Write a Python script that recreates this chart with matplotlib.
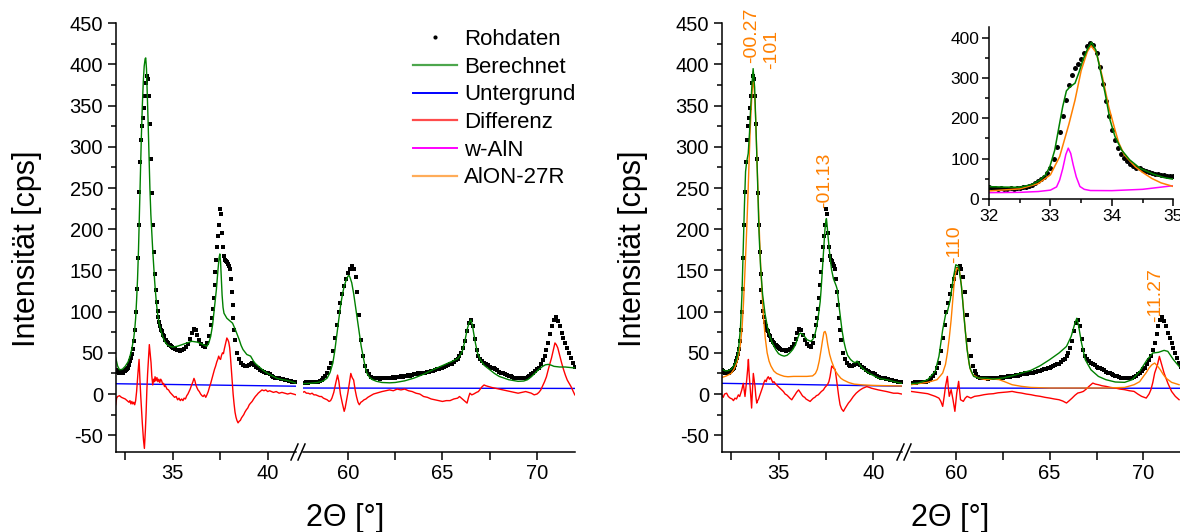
import numpy as np
import matplotlib
matplotlib.use('Agg')
import matplotlib.pyplot as plt
from matplotlib.lines import Line2D
from matplotlib.ticker import MultipleLocator

plt.rcParams['font.family'] = ['Liberation Sans', 'DejaVu Sans']
plt.rcParams['axes.unicode_minus'] = False

# ---------------- Rohdaten (gleich fuer beide Panels) ----------------
raw_y_a = [29, 28, 27, 26, 27, 25, 26, 27, 26, 28, 28, 29, 30, 32, 35, 40, 44, 49, 55, 64,
           78, 100, 128, 165, 205, 245, 282, 308, 325, 335, 347, 362, 378, 386, 382, 362, 328, 285, 244, 205,
           172, 146, 126, 112, 101, 93, 87, 82, 78, 76, 72, 70, 66, 65, 63, 62, 60, 60, 58, 57, 56]   # 32.00-35.00, 0.05
raw_y_b = [55, 54, 53, 52, 53, 55, 57, 61, 67, 74, 79, 78, 72, 66, 61, 58, 57, 62, 70]           # 35.1-36.9, 0.1
raw_y_c = [84, 92, 103, 116, 132, 148, 163, 179, 192, 205, 224, 218, 196, 178, 168, 163, 162, 160,
           158, 156, 152, 140, 124, 108, 92, 78, 66]                                               # 37.00-38.30, 0.05
raw_y_d = [50, 42, 38, 35, 34, 34, 35, 37, 38, 35, 33, 31, 29, 28, 27, 26, 25, 24, 22, 21,
           20, 19, 19, 18, 18, 17, 17, 16, 16, 15, 15, 14]                                         # 38.4-41.5, 0.1
raw_y_e = [13, 13, 14, 13, 14, 14, 14, 15, 15, 16, 17, 19, 22, 26, 31, 38, 52, 68, 84, 100,
           111, 121, 131, 140, 147, 152, 155, 152, 142, 124, 96, 66, 46, 34, 28, 24, 21, 20, 19, 19,
           19, 18, 19, 19, 20, 19, 20, 20, 21, 20, 21, 21, 22, 21, 22, 22, 23, 22, 23, 24,
           24, 25, 24, 25, 26, 26, 27, 27, 28, 28, 29, 30, 30, 31, 32, 33, 34, 35, 36, 37,
           39, 41, 43, 46, 50, 56, 64, 76, 86, 90, 82, 67, 54, 46, 42, 40, 38, 37, 35, 33,
           32, 31, 30, 29, 27, 26, 25, 24, 23, 22, 22, 21, 20, 20, 19, 19, 19, 20, 20, 21,
           22, 24, 26, 28, 30, 32, 36, 41, 46, 53, 62, 73, 82, 90, 94, 89, 82, 74, 68, 62,
           56, 50, 44, 38, 33]                                                                     # 57.6-72.0, 0.1
raw_x = np.concatenate([np.linspace(32, 35, 61), np.linspace(35.1, 36.9, 19), np.linspace(37, 38.3, 27),
                        np.linspace(38.4, 41.5, 32), np.linspace(57.6, 72.0, 145)])
raw_y = np.array(raw_y_a + raw_y_b + raw_y_c + raw_y_d + raw_y_e)

# ---------------- linkes Panel ----------------
calc_l_x = [32.0, 32.1, 32.2, 32.35, 32.5, 32.65, 32.75, 32.85, 32.95, 33.0, 33.05, 33.1, 33.15, 33.2, 33.25,
            33.3, 33.35, 33.4, 33.45, 33.5, 33.55, 33.58, 33.62, 33.65, 33.7, 33.75, 33.8, 33.85, 33.9, 33.95,
            34.0, 34.05, 34.1, 34.15, 34.2, 34.3, 34.4, 34.5, 34.6, 34.7, 34.85, 35.0, 35.25, 35.5, 35.75,
            36.0, 36.3, 36.6, 36.8, 36.9, 37.0, 37.1, 37.2, 37.3, 37.38, 37.44, 37.48, 37.52, 37.56, 37.6,
            37.65, 37.7, 37.85, 38.0, 38.15, 38.3, 38.4, 38.5, 38.6, 38.7, 38.8, 38.9, 39.0, 39.1, 39.15,
            39.25, 39.35, 39.5, 39.75, 40.0, 40.25, 40.5, 40.75, 41.0, 41.25, 41.5,
            57.6, 58.0, 58.4, 58.7, 58.9, 59.05, 59.2, 59.3, 59.4, 59.5, 59.6, 59.7, 59.8, 59.9, 60.0,
            60.05, 60.1, 60.2, 60.3, 60.4, 60.5, 60.6, 60.7, 60.8, 60.9, 61.0, 61.15, 61.3, 61.5, 61.8,
            62.2, 62.5, 63.0, 63.5, 64.0, 64.5, 65.0, 65.5, 65.8, 65.9, 66.05, 66.2, 66.3, 66.4, 66.5,
            66.58, 66.65, 66.75, 66.85, 67.0, 67.2, 67.5, 67.75, 68.0, 68.5, 69.0, 69.3, 69.5, 69.7, 69.9,
            70.1, 70.3, 70.45, 70.6, 70.75, 70.9, 71.2, 71.5, 72.0]
calc_l_y = [44, 34, 29.5, 30, 33.6, 39, 45.7, 55, 68, 78, 92, 114, 140, 175, 220,
            268, 312, 349, 378, 398, 407, 408, 395, 373, 335, 292, 250, 218, 195, 174,
            155, 137, 122, 109, 98, 84, 75, 68, 63, 60, 58, 57, 58, 60, 62,
            64, 63, 60, 58, 62, 70, 84, 105, 127, 150, 165, 170, 160, 140, 120,
            105, 98, 92, 89, 86, 78, 72, 66, 59, 54, 51, 48, 47, 46, 44,
            40, 37, 34, 29, 25, 22, 19, 17.5, 16.6, 15, 13,
            12.5, 13, 14, 16, 19.4, 26, 37.6, 52, 70, 88, 106, 120, 131, 138, 143,
            144, 142, 135, 122, 106, 90, 74, 58, 45.7, 34, 25.5, 20, 17.4, 15.5, 14,
            13.6, 14, 16, 19.4, 24, 29.5, 34.5, 39.6, 43, 45.7, 52, 66, 78, 86, 90,
            84, 74, 61, 50, 41.7, 35, 29.5, 25, 21.4, 17.4, 15.4, 15.8, 17.4, 21, 25.5,
            30, 33.6, 35.5, 36, 35, 33.6, 32.8, 32.8, 31.6]

diff_l_x = [32.0, 32.05, 32.1, 32.2, 32.3, 32.4, 32.5, 32.6, 32.7, 32.75, 32.8, 32.85, 32.9, 32.95, 33.0,
            33.05, 33.1, 33.17, 33.23, 33.28, 33.32, 33.4, 33.46, 33.51, 33.56, 33.6, 33.64, 33.68, 33.73, 33.77,
            33.81, 33.86, 33.9, 33.95, 34.0, 34.04, 34.07, 34.12, 34.17, 34.22, 34.27, 34.32, 34.37, 34.42, 34.47,
            34.52, 34.57, 34.62, 34.7, 34.78, 34.86, 34.94, 35.02, 35.1, 35.18, 35.26, 35.33, 35.4, 35.47, 35.54,
            35.6, 35.67, 35.74, 35.8, 35.86, 35.92, 35.98, 36.05, 36.12, 36.17, 36.22, 36.27, 36.33, 36.4, 36.47,
            36.54, 36.6, 36.67, 36.74, 36.8, 36.87, 36.93, 37.0, 37.07, 37.13, 37.2, 37.26, 37.32, 37.37, 37.42,
            37.47, 37.52, 37.57, 37.62, 37.67, 37.72, 37.77, 37.81, 37.85, 37.9, 37.95, 38.0, 38.04, 38.08, 38.13,
            38.18, 38.23, 38.28, 38.33, 38.38, 38.44, 38.5, 38.56, 38.62, 38.68, 38.74, 38.8, 38.88, 38.95, 39.03,
            39.1, 39.18, 39.26, 39.35, 39.43, 39.5, 39.6, 39.7, 39.8, 39.9, 40.0, 40.1, 40.2, 40.3, 40.45,
            40.6, 40.75, 40.9, 41.05, 41.2, 41.35, 41.5,
            57.6, 57.7, 57.8, 57.9, 58.0, 58.1, 58.2, 58.3, 58.4, 58.5, 58.6, 58.7, 58.8, 58.9, 59.0,
            59.08, 59.15, 59.25, 59.35, 59.45, 59.52, 59.6, 59.7, 59.8, 59.85, 59.92, 60.0, 60.08, 60.15, 60.22,
            60.3, 60.38, 60.45, 60.53, 60.6, 60.68, 60.75, 60.85, 60.95, 61.05, 61.2, 61.35, 61.5, 61.65, 61.8,
            62.0, 62.2, 62.4, 62.6, 62.8, 63.0, 63.2, 63.4, 63.6, 63.8, 64.0, 64.2, 64.4, 64.6, 64.8,
            65.0, 65.2, 65.4, 65.6, 65.8, 65.9, 66.0, 66.1, 66.2, 66.3, 66.38, 66.45, 66.55, 66.65, 66.8,
            66.9, 67.0, 67.1, 67.2, 67.3, 67.45, 67.6, 67.8, 68.0, 68.2, 68.4, 68.6, 68.8, 69.0, 69.2,
            69.4, 69.55, 69.7, 69.85, 70.0, 70.1, 70.2, 70.3, 70.4, 70.5, 70.6, 70.7, 70.77, 70.85, 70.95,
            71.02, 71.1, 71.2, 71.3, 71.4, 71.5, 71.6, 71.7, 71.8, 71.9, 72.0]
diff_l_y = [-13, -5, -3, -2, -4, -5, -6, -8, -10, -8, -12, -9, -12, -10, -13,
            -8, 3, 25, 42, 15, -3, -35, -55, -66, -45, -23, 5, 25, 45, 60,
            50, 38, 22, 11, 18, 15, 21, 16, 20, 15, 18, 14, 18, 16, 12,
            13, 9, 10, 6, 5, 2, 0, -2, -4, -3, -7, -5, -8, -6, -8,
            -5, -6, -2, 0, 3, 6, 10, 14, 19, 16, 11, 8, 5, 3, 0,
            -2, -3, -1, -4, -1, 3, 8, 13, 19, 24, 30, 34, 39, 42, 46,
            43, 42, 47, 50, 49, 55, 60, 64, 68, 66, 63, 56, 45, 32, 15,
            0, -12, -22, -28, -32, -35, -33, -32, -29, -27, -25, -22, -19, -17, -13,
            -11, -9, -6, -3, -1, 1, 3, 5, 4, 5, 3, 4, 3, 2, 3,
            1, 2, 1, 0, 1, 0, -1,
            2, 3, 1, 1, 0, 1, -1, -1, -2, -3, -3, -5, -6, -7, -9,
            -8, -5, 2, 13, 23, 15, 0, -11, -21, -17, -8, 2, 14, 25, 20,
            17, 5, -3, -10, -13, -10, -9, -7, -6, -4, -2, 0, 1, 2, 3,
            4, 5, 4, 6, 5, 6, 4, 3, 1, 0, -3, -4, -6, -7, -8,
            -9, -8, -8, -6, -5, -3, -5, -7, -9, -11, -4, 1, -1, 0, 2,
            3, 6, 9, 11, 10, 9, 8, 7, 6, 5, 4, 3, 2, 1, 2,
            3, 2, 1, -1, 0, 2, 5, 10, 15, 21, 30, 38, 44, 52, 62,
            60, 56, 47, 38, 30, 23, 17, 13, 9, 4, -1]

bg_l_x = [32.0, 41.5, 57.6, 72.0]
bg_l_y = [12.5, 9.5, 7.3, 6.8]

# ---------------- rechtes Panel ----------------
calc_r_x = [32.0, 32.1, 32.2, 32.35, 32.5, 32.65, 32.75, 32.83, 32.9, 32.99, 33.07, 33.15, 33.2, 33.26, 33.32,
            33.4, 33.47, 33.53, 33.61, 33.66, 33.74, 33.8, 33.89, 33.97, 34.05, 34.16, 34.29, 34.46, 34.67, 34.85,
            35.0, 35.15, 35.3, 35.45, 35.6, 35.75, 35.9, 36.0, 36.1, 36.15, 36.3, 36.5, 36.7, 36.8, 36.9,
            37.0, 37.1, 37.2, 37.25, 37.3, 37.35, 37.4, 37.45, 37.5, 37.53, 37.57, 37.6, 37.7, 37.8, 37.9,
            37.95, 38.05, 38.1, 38.2, 38.3, 38.35, 38.45, 38.55, 38.65, 38.8, 38.95, 39.05, 39.15, 39.25, 39.4,
            39.6, 39.8, 40.05, 40.3, 40.55, 40.8, 41.1, 41.5,
            57.6, 58.0, 58.5, 58.9, 59.1, 59.3, 59.45, 59.55, 59.7, 59.85, 60.0, 60.15, 60.3, 60.45, 60.6,
            60.75, 60.95, 61.2, 61.6, 62.0, 62.5, 63.0, 63.5, 64.0, 64.5, 65.0, 65.5, 65.9, 66.15, 66.35,
            66.45, 66.55, 66.7, 66.9, 67.2, 67.6, 68.0, 68.5, 69.0, 69.4, 69.8, 70.2, 70.5, 70.8, 71.1,
            71.3, 71.6, 71.9]
calc_r_y = [30, 29, 28, 28.5, 30, 35, 40, 47, 58, 80, 121, 188, 229, 270, 282,
            292, 318, 348, 380, 395, 372, 330, 262, 196, 155, 121, 97, 76, 62, 54,
            49, 47, 46, 47, 50, 54, 60, 67, 73, 74, 72, 66, 64, 66, 70,
            80, 94, 112, 127, 145, 163, 182, 199, 210, 213, 204, 195, 171, 151, 140,
            137, 131, 127, 106, 88, 78, 64, 54, 47, 42, 39, 38, 40, 37, 32,
            28, 25, 22, 19, 18, 17, 15, 13,
            12.5, 13.3, 17.4, 27.5, 45.7, 78, 96, 100, 114, 139, 157, 155, 131, 90, 54,
            31.6, 21.4, 19.4, 19.4, 18.2, 19.4, 22, 25.5, 28.7, 34.4, 41.7, 49.8, 57.8, 70, 86,
            92, 82, 62, 41.7, 29.5, 21.4, 17.4, 14.6, 14.2, 17.4, 27.5, 41.7, 49.8, 50.6, 53,
            51.8, 41.7, 33.6]

alon_r_x = [32.0, 32.25, 32.5, 32.65, 32.8, 32.9, 33.0, 33.08, 33.15, 33.22, 33.3, 33.35, 33.4, 33.45, 33.5,
            33.55, 33.6, 33.65, 33.7, 33.75, 33.8, 33.85, 33.9, 33.95, 34.0, 34.05, 34.12, 34.2, 34.3, 34.4,
            34.5, 34.6, 34.75, 34.9, 35.1, 35.3, 35.5, 35.8, 36.1, 36.5, 36.8, 36.95, 37.05, 37.15, 37.25,
            37.33, 37.4, 37.46, 37.52, 37.6, 37.7, 37.8, 37.9, 38.0, 38.15, 38.3, 38.43, 38.7, 39.0, 39.5,
            40.0, 40.5, 41.0, 41.5,
            57.6, 58.5, 59.0, 59.3, 59.45, 59.55, 59.65, 59.75, 59.83, 59.9, 59.97, 60.05, 60.12, 60.2, 60.28,
            60.35, 60.43, 60.5, 60.6, 60.7, 60.8, 60.9, 61.2, 61.6, 62.0, 62.3, 62.6, 63.0, 63.5, 64.0,
            65.0, 66.0, 67.0, 68.0, 69.0, 69.5, 69.8, 70.0, 70.15, 70.3, 70.45, 70.6, 70.75, 70.9, 71.05,
            71.2, 71.5, 71.9]
alon_r_y = [20, 22, 25, 30, 38, 48, 62, 82, 110, 145, 188, 218, 250, 285, 318,
            343, 365, 379, 375, 358, 330, 295, 258, 222, 190, 160, 128, 95, 68, 50,
            40, 34, 28, 25, 23, 21.5, 21, 21.4, 21.4, 21.4, 22, 25, 30, 40, 54,
            66, 75, 76, 72, 60, 48, 40, 34, 28, 23, 19, 17, 14, 12, 11,
            10.5, 10.2, 10, 9.7,
            11.3, 14.2, 17.4, 25.5, 36, 49.8, 68, 90, 112, 131, 145, 153, 152, 149, 135,
            118, 98, 78, 56, 37.6, 28, 23.5, 19.4, 17.4, 18.2, 17.5, 15, 11.3, 9.3, 8,
            7.3, 7.3, 7.3, 7.3, 8, 11.3, 15, 21.4, 26, 31.6, 35.5, 37.6, 34, 29.5, 24,
            19.4, 14.2, 11.3]

diff_r_x = [32.0, 32.08, 32.15, 32.26, 32.35, 32.45, 32.55, 32.62, 32.7, 32.78, 32.88, 32.95, 33.02, 33.06, 33.1,
            33.14, 33.19, 33.23, 33.28, 33.32, 33.37, 33.41, 33.45, 33.5, 33.54, 33.58, 33.62, 33.67, 33.71, 33.76,
            33.8, 33.85, 33.9, 33.95, 33.99, 34.05, 34.11, 34.17, 34.23, 34.29, 34.35, 34.4, 34.46, 34.52, 34.58,
            34.64, 34.7, 34.76, 34.82, 34.9, 34.99, 35.08, 35.17, 35.26, 35.35, 35.43, 35.52, 35.6, 35.7, 35.78,
            35.87, 35.95, 36.02, 36.06, 36.12, 36.18, 36.23, 36.3, 36.38, 36.45, 36.52, 36.6, 36.67, 36.75, 36.84,
            36.92, 37.0, 37.1, 37.18, 37.26, 37.37, 37.45, 37.53, 37.6, 37.66, 37.72, 37.77, 37.81, 37.86, 37.92,
            37.99, 38.05, 38.11, 38.18, 38.25, 38.33, 38.43, 38.5, 38.58, 38.69, 38.8, 38.95, 39.1, 39.2, 39.31,
            39.45, 39.55, 39.66, 39.8, 39.92, 40.1, 40.27, 40.5, 40.71, 40.9, 41.07, 41.3, 41.5,
            57.6, 58.0, 58.5, 58.9, 59.1, 59.2, 59.3, 59.38, 59.45, 59.55, 59.6, 59.65, 59.75, 59.85, 59.95,
            60.05, 60.15, 60.25, 60.4, 60.5, 60.6, 60.8, 61.0, 61.25, 61.5, 61.75, 62.0, 62.25, 62.5, 62.75,
            63.0, 63.25, 63.5, 63.75, 64.0, 64.25, 64.5, 64.75, 65.0, 65.25, 65.5, 65.7, 65.9, 66.05, 66.2,
            66.35, 66.5, 66.65, 66.8, 66.95, 67.1, 67.3, 67.45, 67.6, 67.8, 68.0, 68.25, 68.5, 68.75, 69.0,
            69.25, 69.5, 69.7, 69.9, 70.15, 70.3, 70.4, 70.5, 70.6, 70.75, 70.85, 70.95, 71.1, 71.3, 71.5,
            71.7, 71.9]
diff_r_y = [-1, -4, 0, 1, -3, -5, -6, -8, -5, -6, -1, -3, 2, 5, 9,
            13, 4, -3, 8, 17, 30, 42, 24, 9, -5, -17, 3, 25, 18, 9,
            -2, -11, -8, -6, -3, 1, 5, 9, 14, 17, 15, 19, 21, 18, 20,
            17, 14, 15, 13, 11, 9, 7, 5, 3, 0, -1, -3, -5, -7, -4,
            -1, 2, 4, 5, 3, 1, -1, -3, -4, -6, -7, -8, -9, -7, -5,
            -4, -2, -1, 1, 3, 5, 8, 10, 12, 15, 21, 28, 34, 33, 31,
            30, 20, 9, -3, -13, -18, -21, -18, -15, -11, -8, -3, 1, 3, 5,
            7, 8, 9, 8, 7, 6, 5, 4, 3, 2, 1, 1, 0,
            3.2, 2, 0.4, -2.8, -5, -8.9, -15, -3, 9.3, 21.4, 8, -2.8, 5.3, -6.9, -21,
            1.2, 15.4, -6.9, -8.9, -5, -2.8, -4.9, -2.8, -2, -0.8, 0, 0.4, 1.5, 2, 2.5,
            3.2, 2, 1.2, 0, -0.8, -2, -2.8, -4, -4.9, -6, -6.9, -8.5, -10.9, -8, -4.9,
            -1.5, 1.2, 2, 3.2, 6, 9.3, 13.3, 12, 11.3, 10, 9.3, 8, 7.3, 6, 5.3,
            4, 3.2, 0, -2.8, -4.9, 0, 5.3, 14, 25.5, 35.6, 45.7, 37.6, 25.5, 13.3, 3.2,
            -2.8, -6.9]

bg_r_x = [32.0, 41.5, 57.6, 72.0]
bg_r_y = [13, 9.5, 7.2, 7.0]

# Reflexe AlON-27R
refl_x = [33.6, 34.64, 37.45, 59.95, 70.66]
refl_y = [402, 394, 226, 159, 88]
refl_lbl = ['-00.27', '-101', '-01.13', '-110', '-11.27']

# ---------------- Inset 32-35 ----------------
ins_calc_x = [32.0, 32.25, 32.5, 32.7, 32.83, 32.92, 32.99, 33.07, 33.15, 33.2, 33.26, 33.32, 33.4, 33.47, 33.53,
              33.61, 33.67, 33.74, 33.8, 33.89, 33.97, 34.05, 34.16, 34.29, 34.46, 34.67, 34.85, 35.0]
ins_calc_y = [30.6, 29.5, 29, 36, 47, 60, 80, 121, 188, 229, 268, 278, 287, 316, 345,
              374, 388, 369, 328, 262, 196, 155, 121, 97, 76, 62, 53, 49]
ins_alon_x = [32.0, 32.5, 32.8, 33.0, 33.15, 33.3, 33.4, 33.5, 33.6, 33.66, 33.75, 33.85, 33.95, 34.05, 34.11,
              34.2, 34.38, 34.5, 34.65, 34.8, 35.0]
ins_alon_y = [20, 25, 38, 60, 105, 185, 245, 318, 365, 380, 362, 300, 228, 172, 140,
              110, 80, 66, 51, 40, 31]
ins_aln_x = [32.0, 32.5, 32.8, 33.0, 33.1, 33.15, 33.2, 33.25, 33.29, 33.33, 33.37, 33.42, 33.48, 33.55, 33.65,
             34.0, 34.5, 35.0]
ins_aln_y = [15.7, 16.5, 18.5, 22, 30, 47, 75, 110, 126, 113, 85, 55, 31, 24, 21,
             20.7, 24, 33]

c_green = '#008000'
c_blue = '#0000ff'
c_red = '#ff0000'
c_mag = '#ff00ff'
c_orange = '#ff8000'

fig = plt.figure(figsize=(11.8, 5.32), dpi=100)
W, H = 1180.0, 532.0


def split_axes(x1a, x1b, x2a, x2b, xlim2):
    bot = 1 - 451.7 / H
    hgt = (451.7 - 23.3) / H
    a1 = fig.add_axes([x1a / W, bot, (x1b - x1a) / W, hgt])
    a2 = fig.add_axes([x2a / W, bot, (x2b - x2a) / W, hgt])
    for a in (a1, a2):
        a.set_ylim(-70, 450)
        a.patch.set_alpha(0)
        a.spines['top'].set_visible(False)
        a.spines['right'].set_visible(False)
        for s in a.spines.values():
            s.set_linewidth(1.1)
        a.tick_params(direction='out', labelsize=14.5, width=1.1, length=6, pad=3)
    a1.set_xlim(32, 41.5)
    a2.set_xlim(*xlim2)
    a1.set_xticks([32.5, 35, 37.5, 40])
    a1.set_xticklabels(['', '35', '', '40'])
    a2.set_xticks([60, 62.5, 65, 67.5, 70])
    a2.set_xticklabels(['60', '', '65', '', '70'])
    a1.set_yticks(range(-50, 451, 50))
    a1.yaxis.set_minor_locator(MultipleLocator(25))
    a1.tick_params(axis='y', which='minor', direction='out', length=3.5, width=1.1)
    a2.spines['left'].set_visible(False)
    a2.tick_params(axis='y', which='both', left=False, labelleft=False)
    return a1, a2


def break_marks(px):
    for dx in (0, 7):
        fig.add_artist(Line2D([(px - 4 + dx) / W, (px + 3 + dx) / W],
                              [1 - 460 / H, 1 - 444 / H], color='black', lw=1.1))


axL1, axL2 = split_axes(115.7, 296.2, 302.6, 574.8, (57.6, 72.0))
axR1, axR2 = split_axes(721.7, 901.6, 910.8, 1180, (57.6, 71.95))
break_marks(295)
break_marks(901)

for a in (axL1, axL2):
    a.plot(raw_x, raw_y, 's', color='black', ms=2.8, mew=0)
    a.plot(bg_l_x, bg_l_y, color=c_blue, lw=1.0)
    a.plot(diff_l_x, diff_l_y, color=c_red, lw=1.0)
    a.plot(calc_l_x, calc_l_y, color=c_green, lw=1.0)

for a in (axR1, axR2):
    a.plot(raw_x, raw_y, 's', color='black', ms=2.8, mew=0)
    a.plot(bg_r_x, bg_r_y, color=c_blue, lw=1.0)
    a.plot(diff_r_x, diff_r_y, color=c_red, lw=1.0)
    a.plot(alon_r_x, alon_r_y, color=c_orange, lw=1.0)
    a.plot(calc_r_x, calc_r_y, color=c_green, lw=1.0)

for xx, yy, lb in zip(refl_x, refl_y, refl_lbl):
    a = axR1 if xx < 45 else axR2
    a.text(xx, yy, lb, rotation=90, ha='center', va='bottom', color=c_orange, fontsize=14)

# Achsentitel
for xc in (27, 633):
    fig.text(xc / W, 1 - 249 / H, 'Intensität [cps]', rotation=90, ha='center', va='center', fontsize=22)
for xc in (345, 950):
    fig.text(xc / W, 1 - 518 / H, '2Θ [°]', ha='center', va='center', fontsize=22)

# Legende
handles = [Line2D([], [], ls='none', marker='o', ms=3, mew=0, color='black'),
           Line2D([], [], color=c_green, lw=1.6, alpha=0.7),
           Line2D([], [], color=c_blue, lw=1.4),
           Line2D([], [], color=c_red, lw=1.6, alpha=0.7),
           Line2D([], [], color=c_mag, lw=1.4),
           Line2D([], [], color=c_orange, lw=1.6, alpha=0.65)]
labels = ['Rohdaten', 'Berechnet', 'Untergrund', 'Differenz', 'w-AlN', 'AlON-27R']
fig.legend(handles, labels, loc='upper left', bbox_to_anchor=(413 / W, 1 - 29 / H), frameon=False,
           fontsize=16, handlelength=2.0, handletextpad=0.3, labelspacing=0.3, borderpad=0,
           borderaxespad=0, numpoints=1)

# Inset
axI = fig.add_axes([989 / W, 1 - 199 / H, (1173.3 - 989) / W, (199 - 26.7) / H])
axI.patch.set_alpha(0)
axI.plot(raw_x, raw_y, 'o', color='black', ms=3.6, mew=0)
axI.plot(ins_aln_x, ins_aln_y, color=c_mag, lw=1.1)
axI.plot(ins_alon_x, ins_alon_y, color=c_orange, lw=1.1)
axI.plot(ins_calc_x, ins_calc_y, color=c_green, lw=1.1)
axI.set_xlim(32, 35)
axI.set_ylim(0, 427)
axI.spines['top'].set_visible(False)
axI.spines['right'].set_visible(False)
for s in axI.spines.values():
    s.set_linewidth(1.1)
axI.set_xticks([32, 33, 34, 35])
axI.set_yticks([0, 100, 200, 300, 400])
axI.xaxis.set_minor_locator(MultipleLocator(0.5))
axI.yaxis.set_minor_locator(MultipleLocator(50))
axI.tick_params(direction='out', labelsize=12.5, width=1.1, length=5, pad=2)
axI.tick_params(which='minor', direction='out', length=3, width=1.1)

fig.savefig('out.png', dpi=100)
